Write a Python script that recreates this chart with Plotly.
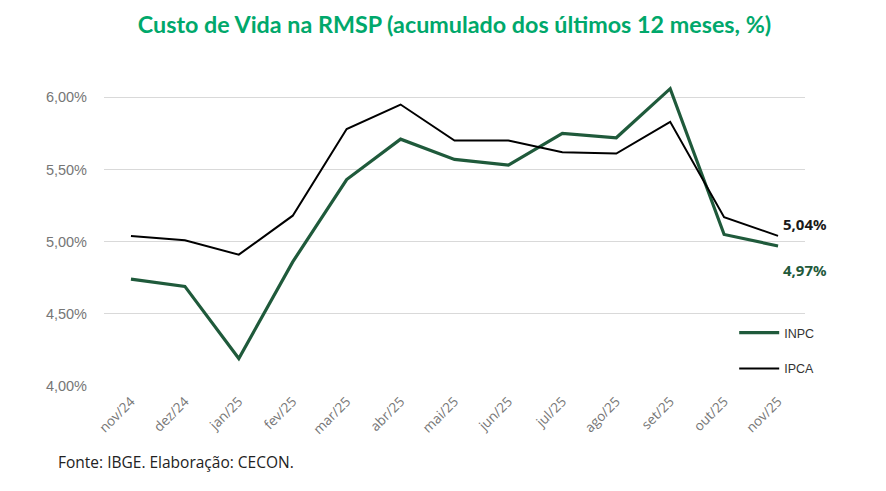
import plotly.graph_objects as go

months = ["nov/24", "dez/24", "jan/25", "fev/25", "mar/25", "abr/25", "mai/25",
          "jun/25", "jul/25", "ago/25", "set/25", "out/25", "nov/25"]
inpc = [4.74, 4.69, 4.19, 4.86, 5.43, 5.71, 5.57, 5.53, 5.75, 5.72, 6.06, 5.05, 4.97]
ipca = [5.04, 5.01, 4.91, 5.18, 5.78, 5.95, 5.70, 5.70, 5.62, 5.61, 5.83, 5.17, 5.04]
y_ticks = [4.0, 4.5, 5.0, 5.5, 6.0]
y_tick_labels = ["4,00%", "4,50%", "5,00%", "5,50%", "6,00%"]

GREEN = "#1f5a3b"
TITLE_GREEN = "#00a86b"

fig = go.Figure()
fig.add_trace(go.Scatter(x=months, y=inpc, mode="lines", name="INPC",
                         line=dict(color=GREEN, width=3.2), legend="legend"))
fig.add_trace(go.Scatter(x=months, y=ipca, mode="lines", name="IPCA",
                         line=dict(color="#000000", width=2), legend="legend2"))

fig.add_annotation(x=months[-1], y=ipca[-1], text="<b>5,04%</b>", showarrow=False,
                   xref="x", yref="y", xshift=27, yshift=12,
                   font=dict(family="Noto Sans", size=15, color="#1a1a1a"))
fig.add_annotation(x=months[-1], y=inpc[-1], text="<b>4,97%</b>", showarrow=False,
                   xref="x", yref="y", xshift=27, yshift=-24,
                   font=dict(family="Noto Sans", size=15, color=GREEN))

fig.add_annotation(text="Fonte: IBGE. Elaboração: CECON.", xref="paper", yref="paper",
                   x=-0.0685, y=-0.249, xanchor="left", yanchor="middle", showarrow=False,
                   font=dict(family="Open Sans", size=15.5, color="#222222"))

legend_common = dict(xanchor="left", yanchor="middle", bgcolor="rgba(0,0,0,0)",
                     itemwidth=40, font=dict(family="Liberation Sans", size=12.5, color="#333333"))

fig.update_layout(
    width=878, height=483,
    paper_bgcolor="white", plot_bgcolor="white",
    margin=dict(l=96, r=81, t=72, b=105),
    title=dict(text="<b>Custo de Vida na RMSP (acumulado dos últimos 12 meses, %)</b>",
               x=0.5, xref="paper", xanchor="center", y=0.965, yanchor="middle",
               font=dict(family="Lato", size=23.3, color=TITLE_GREEN)),
    showlegend=True,
    legend=dict(x=0.899, y=0.173, **legend_common),
    legend2=dict(x=0.899, y=0.056, **legend_common),
    xaxis=dict(type="category", range=[-0.5, 12.5], showgrid=False, showline=False,
               ticks="", tickangle=-45, ticklabelstandoff=4,
               tickfont=dict(family="Open Sans", size=13.5, color="#767676")),
    yaxis=dict(range=[4.0, 6.12], tickvals=y_ticks, ticktext=y_tick_labels,
               showgrid=True, gridcolor="#d9d9d9", gridwidth=1.3, zeroline=False,
               showline=False, ticks="", ticklabelstandoff=16,
               tickfont=dict(family="Liberation Sans", size=14.5, color="#767676")),
)

fig.write_html("out.html")
